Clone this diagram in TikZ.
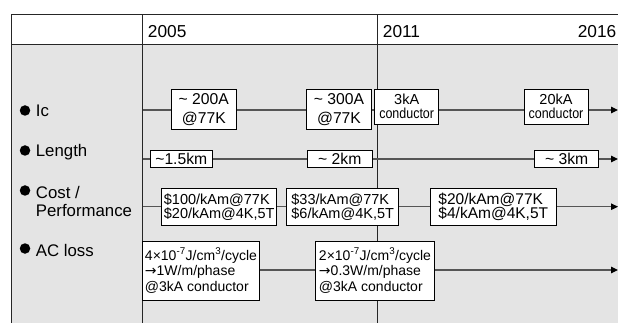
\documentclass[tikz,border=0pt]{standalone}
\usepackage{fontspec}
\setmainfont{Liberation Sans}
\newfontfamily\dejavu{DejaVu Sans}
\usetikzlibrary{arrows.meta}
\definecolor{panel}{HTML}{E4E4E4}
\definecolor{rule}{HTML}{555555}
\newcommand{\arr}{{\dejavu →}}
\newcommand{\cond}{\scalebox{0.86}[1]{conductor}}
\begin{document}
\begin{tikzpicture}[x=1pt,y=-1pt,
  boxbase/.style={draw=black, fill=white, line width=0.9pt, inner sep=0pt, anchor=center},
  icbox/.style={boxbase, align=center, font=\fontsize{15.7}{18.7}\selectfont},
  condbox/.style={boxbase, align=center, font=\fontsize{14.5}{14}\selectfont},
  lenbox/.style={boxbase, font=\fontsize{15.7}{18}\selectfont},
  costbox/.style={boxbase, align=left, font=\fontsize{14.5}{14.3}\selectfont},
  acbox/.style={boxbase, align=left, font=\fontsize{14}{15.5}\selectfont},
  timeline/.style={draw=rule, line width=1.1pt, -{Triangle[length=7pt,width=6.5pt,color=black]}},
  tableline/.style={draw=black!85, line width=1pt},
  rowlabel/.style={anchor=base west, inner sep=0pt, font=\fontsize{16.8}{17.3}\selectfont, align=left},
  yearlabel/.style={inner sep=0pt, font=\fontsize{17.3}{18}\selectfont},
  bulletdot/.style={fill=black, circle, inner sep=0pt, minimum size=10.5pt}
]
\useasboundingbox (0,0) rectangle (618,323);
% table
\fill[panel] (11.7,44.3) rectangle (618,323);
\draw[tableline] (11.7,323) -- (11.7,14.7) -- (618,14.7);
\draw[tableline] (11.7,44.3) -- (618,44.3);
\draw[tableline] (142.7,14.7) -- (142.7,323);
\draw[tableline] (377.5,14.7) -- (377.5,323);
% years
\node[yearlabel, anchor=base west] (y2005) at (147.7,37.3) {2005};
\node[yearlabel, anchor=base west] (y2011) at (382.7,37.3) {2011};
\node[yearlabel, anchor=base east] (y2016) at (616.5,37.3) {2016};
% row labels
\node[bulletdot] (d1) at (25,110.5) {};
\node[bulletdot] (d2) at (25,150.5) {};
\node[bulletdot] (d3) at (25,190.5) {};
\node[bulletdot] (d4) at (25,248.5) {};
\node[rowlabel] (lic) at (35.7,116.7) {Ic};
\node[rowlabel] (llen) at (35.7,156.7) {Length};
\node[rowlabel] (lcost) at (35.7,216) {Cost /\\Performance};
\node[rowlabel] (lac) at (35.7,256) {AC loss};
% timeline end points
\coordinate (icS) at (142.7,110);   \coordinate (icE) at (618,110);
\coordinate (lenS) at (142.7,159);  \coordinate (lenE) at (618,159);
\coordinate (costS) at (142.7,206.7); \coordinate (costE) at (618,206.7);
\coordinate (acS) at (142.7,270);   \coordinate (acE) at (618,270);
\draw[timeline] (icS) -- (icE);
\draw[timeline] (lenS) -- (lenE);
\draw[timeline] (costS) -- (costE);
\draw[timeline] (acS) -- (acE);
% Ic boxes
\node[icbox, minimum width=64.3pt, minimum height=40pt] (ic1) at (203.8,109.3) {\textasciitilde{} 200A\\@77K};
\node[icbox, minimum width=64.6pt, minimum height=40pt] (ic2) at (339,109.3) {\textasciitilde{} 300A\\@77K};
\node[condbox, minimum width=64pt, minimum height=34.7pt] (ic3) at (406.7,106.7) {3kA\\\cond};
\node[condbox, minimum width=64pt, minimum height=34.7pt] (ic4) at (556,106.7) {20kA\\\cond};
% Length boxes
\node[lenbox, minimum width=61.3pt, minimum height=17.3pt] (len1) at (181.3,158.7) {\textasciitilde1.5km};
\node[lenbox, minimum width=64.3pt, minimum height=17.3pt] (len2) at (339.8,158.7) {\textasciitilde{} 2km};
\node[lenbox, minimum width=64pt, minimum height=17.3pt] (len3) at (566.7,158.7) {\textasciitilde{} 3km};
% Cost boxes
\node[costbox, minimum width=115pt, minimum height=37pt] (cost1) at (219.2,206.8) {\$100/kAm@77K\\\$20/kAm@4K,5T};
\node[costbox, minimum width=112pt, minimum height=37pt] (cost2) at (342.7,206.8) {\$33/kAm@77K\\\$6/kAm@4K,5T};
\node[costbox, minimum width=125.3pt, minimum height=37pt, font=\fontsize{15.5}{14.5}\selectfont] (cost3) at (493.3,206.8) {\$20/kAm@77K\\\$4/kAm@4K,5T};
% AC loss boxes
\node[acbox, minimum width=116.7pt, minimum height=59pt] (ac1) at (201,270.5) {4×10\textsuperscript{-7}J/cm\textsuperscript{3}/cycle\\\arr1W/m/phase\\@3kA conductor};
\node[acbox, minimum width=119.3pt, minimum height=59pt] (ac2) at (375,270.5) {2×10\textsuperscript{-7}J/cm\textsuperscript{3}/cycle\\\arr0.3W/m/phase\\@3kA conductor};
\end{tikzpicture}
\end{document}
